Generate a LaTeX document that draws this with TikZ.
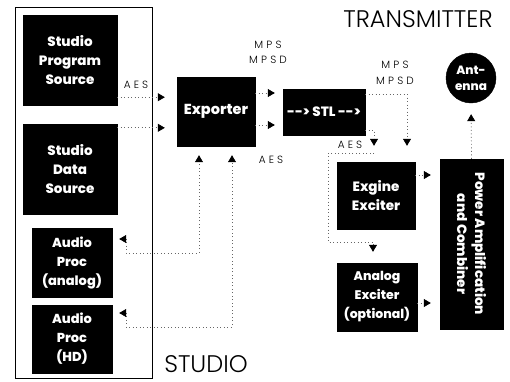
\documentclass[tikz,border=0pt]{standalone}
\usepackage{fontspec}
\setmainfont{Poppins}
\newfontfamily\heavy{Poppins ExtraBold}
\newfontfamily\thin{Poppins Light}
\usetikzlibrary{arrows.meta,calc}
\begin{document}
\begin{tikzpicture}[x=1pt,y=-1pt,
  blk/.style={fill=black,draw=black,text=white,align=center,inner sep=0pt,
    font=\heavy\fontsize{13.5}{19}\selectfont},
  lbl/.style={inner sep=0pt,font=\thin\fontsize{10.5}{12}\selectfont\addfontfeature{LetterSpace=30}},
  big/.style={inner sep=0pt,font=\thin\fontsize{24}{26}\selectfont},
  conn/.style={draw=black!60,line width=0.7pt,dash pattern=on 1pt off 2.5pt,
    -{Triangle[length=7pt,width=8pt,color=black,fill=black]},shorten >=5pt},
  both/.style={draw=black!60,line width=0.7pt,dash pattern=on 1pt off 2.5pt,
    {Triangle[length=7pt,width=8pt,color=black,fill=black]}-{Triangle[length=7pt,width=8pt,color=black,fill=black]},
    shorten >=8pt,shorten <=7pt}
]
\useasboundingbox (0,0) rectangle (510,381);
\fill[white] (0,0) rectangle (510,381);

% studio frame
\node[draw=black,line width=0.9pt,minimum width=137,minimum height=371,inner sep=0pt] (studio) at (83.5,192.5) {};

% blocks
\node[blk,minimum width=94,minimum height=90] (sps) at (70,60) {Studio\\Program\\Source};
\node[blk,minimum width=94,minimum height=90] (sds) at (70,169) {Studio\\Data\\Source};
\node[blk,minimum width=80,minimum height=69,font=\heavy\fontsize{13}{19}\selectfont] (apa) at (72,262.5) {Audio\\Proc\\(analog)};
\node[blk,minimum width=80,minimum height=68,font=\heavy\fontsize{13}{19}\selectfont] (aph) at (72,339) {Audio\\Proc\\(HD)};
\node[blk,minimum width=78,minimum height=69,font=\heavy\fontsize{14.5}{19}\selectfont] (exp) at (216,111.5) {Exporter};
\node[blk,minimum width=82,minimum height=46] (stl) at (324,112) {-{}-> STL -{}->};
\node[blk,minimum width=78,minimum height=67] (eng) at (376,195.5) {Exgine\\Exciter};
\node[blk,minimum width=80,minimum height=68,font=\heavy\fontsize{12.5}{19}\selectfont] (ana) at (377,297) {Analog\\Exciter\\(optional)};
\node[blk,minimum width=63,minimum height=170] (pwr) at (471.5,244) {};
\node[blk,fill=none,draw=none,rotate=-90,font=\heavy\fontsize{13.5}{18}\selectfont] (pwrtxt) at (pwr.center) {Power Amplification\\and Combiner};
\node[blk,circle,minimum size=50,font=\heavy\fontsize{12}{16}\selectfont] (ant) at (471,78) {Ant-\\enna};

% titles
\node[big] (ttx) at (418,19) {TRANSMITTER};
\node[big] (tst) at (206,364) {STUDIO};

% labels
\node[lbl] (aes1) at (136,85) {AES};
\node[lbl] (aes2) at (271,160) {AES};
\node[lbl] (aes3) at (350,145) {AES};
\node[lbl] (mps1) at (268,45) {MPS};
\node[lbl] (mpsd1) at (268,60) {MPSD};
\node[lbl] (mps2) at (395,65) {MPS};
\node[lbl] (mpsd2) at (395,81) {MPSD};

% studio -> exporter
\draw[conn,shorten >=12pt] ([yshift=8pt]sps.south east) -- ([yshift=8pt]sps.south east -| exp.west);
\draw[conn,shorten >=12pt] ([yshift=-4pt]sds.north east) -- ([yshift=-4pt]sds.north east -| exp.west);

% exporter -> STL
\draw[conn,shorten >=8pt] (exp.east |- 0,93) -- (stl.west |- 0,93);
\draw[conn,shorten >=8pt] (exp.east |- 0,125) -- (stl.west |- 0,125);

% STL -> exciter
\draw[conn,shorten >=16pt] (stl.east |- 0,94) -| (eng.north -| 407,0);
\draw[conn,shorten >=16pt] (stl.east |- 0,130) -- (374,130) -- (eng.north -| 374,0);
\coordinate (aesbr) at (374,153);
\draw[conn,shorten >=11pt] (aesbr) -- (328,153) -- (328,242) -- (373,242) -- (ana.north -| 373,0);

% exciters -> power
\draw[conn,shorten >=9pt] (eng.east |- 0,175) -- (pwr.west |- 0,175);
\draw[conn,shorten >=9pt] (ana.east |- 0,303) -- (pwr.west |- 0,303);

% power -> antenna
\draw[conn,shorten >=11pt] (pwr.north) -- (ant.south);

% audio proc <-> exporter
\draw[both,shorten >=9pt] (apa.east |- 0,239) -- (126,239) -- (126,253) -- (199,253) -- (exp.south -| 199,0);
\draw[both,shorten >=9pt] (aph.east |- 0,313) -- (126,313) -- (126,327) -- (232,327) -- (exp.south -| 232,0);
\end{tikzpicture}
\end{document}
